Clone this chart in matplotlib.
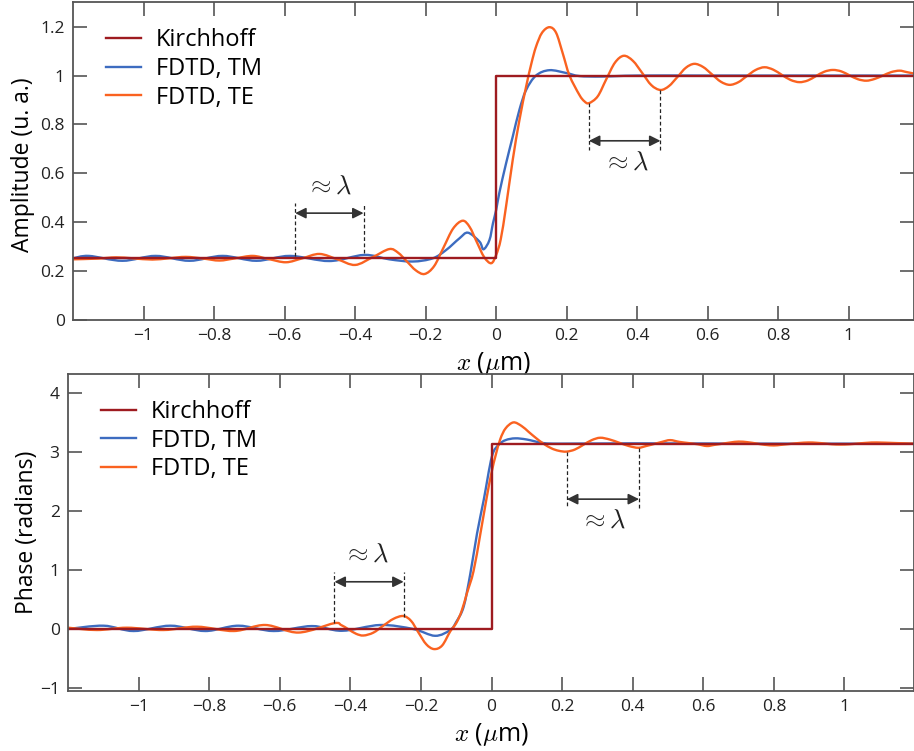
import matplotlib
matplotlib.use("Agg")
import matplotlib.pyplot as plt
from matplotlib.path import Path
from matplotlib.patches import PathPatch
from matplotlib.lines import Line2D
from matplotlib.ticker import FixedLocator, FuncFormatter

plt.rcParams['font.family'] = ['Open Sans', 'DejaVu Sans']
plt.rcParams['mathtext.fontset'] = 'cm'
plt.rcParams['axes.unicode_minus'] = True

# ---- amplitude panel data ----
kirch_amp_x = [-1.2, 0.0, 0.0, 1.2]
kirch_amp_y = [0.255, 0.255, 1.0, 1.0]

tm_amp_x = [-1.2, -1.155, -1.06, -0.966, -0.87, -0.776, -0.68, -0.585, -0.473, -0.374,
            -0.303, -0.237, -0.18, -0.142, -0.104, -0.08, -0.047, -0.036, -0.019, -0.009,
            0.0, 0.009, 0.028, 0.047, 0.066, 0.085, 0.113, 0.151, 0.2, 0.236, 0.3, 0.4, 0.6,
            0.9, 1.2]
tm_amp_y = [0.252, 0.262, 0.242, 0.262, 0.242, 0.262, 0.242, 0.262, 0.241, 0.266,
            0.248, 0.239, 0.252, 0.286, 0.334, 0.357, 0.32, 0.289, 0.327, 0.396,
            0.45, 0.52, 0.64, 0.75, 0.86, 0.941, 1.0, 1.022, 1.01, 0.998, 0.996, 1.0, 1.0,
            1.0, 1.0]

te_amp_x = [-1.2, -1.13, -1.078, -1.03, -0.975, -0.93, -0.88, -0.83, -0.785, -0.74,
            -0.69, -0.645, -0.596, -0.55, -0.501, -0.45, -0.40, -0.35, -0.303, -0.278,
            -0.253, -0.228, -0.203, -0.176, -0.149, -0.122, -0.095, -0.075, -0.055, -0.034,
            -0.014, 0.0, 0.013, 0.028, 0.047, 0.066, 0.085, 0.1, 0.113, 0.13,
            0.151, 0.17, 0.189, 0.208, 0.236, 0.25, 0.263, 0.288, 0.312, 0.337,
            0.362, 0.388, 0.414, 0.44, 0.466, 0.49, 0.514, 0.538, 0.562, 0.587,
            0.612, 0.637, 0.662, 0.687, 0.711, 0.736, 0.761, 0.786, 0.81, 0.835,
            0.86, 0.884, 0.907, 0.931, 0.955, 0.979, 1.002, 1.026, 1.05, 1.073,
            1.097, 1.12, 1.144, 1.165, 1.2]
te_amp_y = [0.248, 0.251, 0.256, 0.252, 0.247, 0.252, 0.258, 0.251, 0.243, 0.252,
            0.262, 0.249, 0.236, 0.252, 0.27, 0.248, 0.225, 0.257, 0.29, 0.275,
            0.239, 0.203, 0.188, 0.22, 0.297, 0.374, 0.406, 0.38, 0.319, 0.257,
            0.232, 0.266, 0.33, 0.464, 0.655, 0.818, 0.955, 1.05, 1.118, 1.175,
            1.198, 1.175, 1.09, 1.0, 0.921, 0.895, 0.887, 0.915, 0.984, 1.053,
            1.081, 1.06, 1.011, 0.961, 0.941, 0.957, 0.994, 1.032, 1.048, 1.035,
            1.005, 0.975, 0.962, 0.973, 0.998, 1.023, 1.034, 1.024, 1.003, 0.982,
            0.973, 0.98, 0.998, 1.016, 1.023, 1.017, 1.001, 0.985, 0.979, 0.986,
            1.0, 1.014, 1.02, 1.014, 1.004]

# ---- phase panel data ----
kirch_ph_x = [-1.2, 0.0, 0.0, 1.2]
kirch_ph_y = [0.0, 0.0, 3.14, 3.14]

tm_ph_x = [-1.2, -1.099, -1.014, -0.91, -0.811, -0.717, -0.617, -0.509, -0.424, -0.315,
           -0.222, -0.16, -0.117, -0.1, -0.079, -0.06, -0.041, -0.022, 0.001, 0.02,
           0.04, 0.067, 0.1, 0.147, 0.2, 0.4, 0.8, 1.2]
tm_ph_y = [0.0, 0.056, -0.034, 0.056, -0.034, 0.056, -0.034, 0.05, -0.03, 0.068,
           0.0, -0.115, -0.017, 0.12, 0.378, 0.94, 1.62, 2.19, 2.92, 3.12,
           3.2, 3.23, 3.21, 3.15, 3.14, 3.145, 3.14, 3.14]

te_ph_x = [-1.2, -1.118, -1.033, -0.929, -0.834, -0.73, -0.641, -0.547, -0.447, -0.426,
           -0.405, -0.384, -0.363, -0.335, -0.307, -0.278, -0.25, -0.228, -0.207, -0.185,
           -0.163, -0.14, -0.117, -0.1, -0.085, -0.07, -0.051, -0.032, -0.013, 0.0,
           0.012, 0.025, 0.04, 0.062, 0.085, 0.105, 0.125, 0.147, 0.17, 0.19,
           0.212, 0.236, 0.26, 0.284, 0.308, 0.335, 0.362, 0.389, 0.416, 0.438,
           0.461, 0.483, 0.506, 0.532, 0.558, 0.584, 0.61, 0.632, 0.655, 0.677,
           0.7, 0.725, 0.75, 0.775, 0.8, 0.82, 0.845, 0.87, 0.898, 0.92,
           0.943, 0.965, 0.988, 1.014, 1.04, 1.066, 1.092, 1.145, 1.2]
te_ph_y = [0.022, -0.017, 0.022, -0.017, 0.039, -0.034, 0.068, -0.06, 0.097, 0.067,
           -0.007, -0.08, -0.11, -0.062, 0.055, 0.172, 0.22, 0.138, -0.06, -0.258,
           -0.34, -0.28, -0.04, 0.1, 0.3, 0.6, 0.98, 1.6, 2.25, 2.65,
           2.95, 3.22, 3.4, 3.5, 3.44, 3.34, 3.24, 3.14, 3.06, 3.02,
           3.005, 3.04, 3.12, 3.2, 3.24, 3.21, 3.155, 3.1, 3.07, 3.1,
           3.135, 3.17, 3.2, 3.17, 3.15, 3.13, 3.1, 3.12, 3.14, 3.16,
           3.175, 3.165, 3.143, 3.12, 3.11, 3.12, 3.135, 3.15, 3.16, 3.155,
           3.143, 3.13, 3.125, 3.13, 3.143, 3.155, 3.16, 3.15, 3.14]

x_ticks = [-1, -0.8, -0.6, -0.4, -0.2, 0, 0.2, 0.4, 0.6, 0.8, 1]
amp_yticks = [0, 0.2, 0.4, 0.6, 0.8, 1, 1.2]
ph_yticks = [-1, 0, 1, 2, 3, 4]

c_kirch = '#9e1b20'
c_tm = '#3d6cc0'
c_te = '#fa6220'
c_spine = '#555555'
lw = 1.7


def fmt(v, pos):
    return ('%g' % v).replace('-', '\u2212')


def smooth_line(ax, xs, ys, color):
    # draw the read points as a smooth curve (Catmull-Rom bezier through each point)
    n = len(xs)
    verts = [(xs[0], ys[0])]
    codes = [Path.MOVETO]
    for i in range(n - 1):
        a = max(i - 1, 0)
        d = min(i + 2, n - 1)
        c1 = (xs[i] + (xs[i + 1] - xs[a]) / 6, ys[i] + (ys[i + 1] - ys[a]) / 6)
        c2 = (xs[i + 1] - (xs[d] - xs[i]) / 6, ys[i + 1] - (ys[d] - ys[i]) / 6)
        verts += [c1, c2, (xs[i + 1], ys[i + 1])]
        codes += [Path.CURVE4] * 3
    ax.add_patch(PathPatch(Path(verts, codes), facecolor='none', edgecolor=color,
                           lw=lw, capstyle='round', joinstyle='round'))


def style_axes(ax, yticks):
    ax.xaxis.set_major_locator(FixedLocator(x_ticks))
    ax.yaxis.set_major_locator(FixedLocator(yticks))
    ax.xaxis.set_major_formatter(FuncFormatter(fmt))
    ax.yaxis.set_major_formatter(FuncFormatter(fmt))
    ax.tick_params(direction='in', length=10, width=1.2, color=c_spine,
                   top=True, right=True, labelsize=12.5, labelcolor='#222222', pad=6)
    for sp in ax.spines.values():
        sp.set_color(c_spine)
        sp.set_linewidth(1.3)
    ax.set_xlabel(r'$x$ ($\mu$m)', fontsize=18, labelpad=4)


def add_legend(ax, top):
    handles = [Line2D([], [], color=c, lw=lw) for c in (c_kirch, c_tm, c_te)]
    ax.legend(handles, ['Kirchhoff', 'FDTD, TM', 'FDTD, TE'], loc='upper left',
              frameon=False, fontsize=17, handlelength=1.45, handletextpad=0.65,
              labelspacing=0.2, borderaxespad=0.3, bbox_to_anchor=(0.02, top))


def wavelength_mark(ax, x1, x2, y1_lo, y2_lo, y_top, y_arrow, tx, ty):
    ax.plot([x1, x1], [y1_lo, y_top], color='#222222', lw=0.9, dashes=(3, 2))
    ax.plot([x2, x2], [y2_lo, y_top], color='#222222', lw=0.9, dashes=(3, 2))
    ax.annotate('', xy=(x2, y_arrow), xytext=(x1, y_arrow),
                arrowprops=dict(arrowstyle='<|-|>', color='#333333', lw=1.2,
                                mutation_scale=16, shrinkA=0, shrinkB=0))
    ax.text(tx, ty, r'$\approx\lambda$', fontsize=19, ha='center', va='center',
            color='#222222')


fig = plt.figure(figsize=(9.14, 7.51), dpi=100)
ax1 = fig.add_axes([0.0799, 0.574, 0.9201, 0.423])
ax2 = fig.add_axes([0.0744, 0.0799, 0.9256, 0.4221])
ax2.patch.set_visible(False)

ax1.plot(kirch_amp_x, kirch_amp_y, color=c_kirch, lw=lw)
smooth_line(ax1, tm_amp_x, tm_amp_y, c_tm)
smooth_line(ax1, te_amp_x, te_amp_y, c_te)
ax1.set_xlim(-1.2, 1.185)
ax1.set_ylim(0, 1.3)
style_axes(ax1, amp_yticks)
ax1.set_ylabel('Amplitude (u. a.)', fontsize=16.5)
ax1.yaxis.set_label_coords(-0.045, 0.49)
add_legend(ax1, 0.97)
wavelength_mark(ax1, -0.570, -0.376, 0.262, 0.275, 0.48, 0.437, -0.475, 0.545)
wavelength_mark(ax1, 0.263, 0.466, 0.887, 0.941, 0.695, 0.733, 0.37, 0.64)

ax2.plot(kirch_ph_x, kirch_ph_y, color=c_kirch, lw=lw)
smooth_line(ax2, tm_ph_x, tm_ph_y, c_tm)
smooth_line(ax2, te_ph_x, te_ph_y, c_te)
ax2.set_xlim(-1.2, 1.197)
ax2.set_ylim(-1.05, 4.32)
style_axes(ax2, ph_yticks)
ax2.set_ylabel('Phase (radians)', fontsize=16.5)
ax2.yaxis.set_label_coords(-0.034, 0.5)
add_legend(ax2, 0.97)
wavelength_mark(ax2, -0.445, -0.249, 0.1, 0.21, 0.97, 0.80, -0.355, 1.25)
wavelength_mark(ax2, 0.2136, 0.418, 3.0, 3.07, 2.05, 2.20, 0.317, 1.82)

fig.savefig('out.png', dpi=100)
